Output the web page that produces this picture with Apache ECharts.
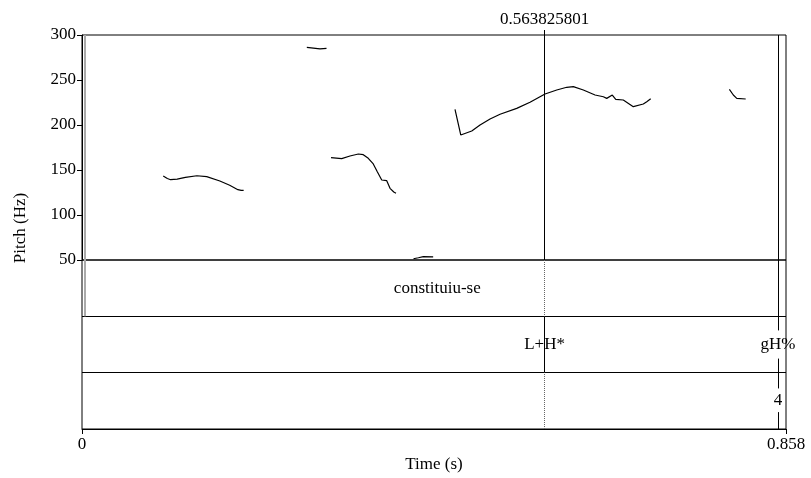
<!DOCTYPE html>
<html>
<head>
<meta charset="utf-8">
<script src="https://cdn.jsdelivr.net/npm/echarts@6/dist/echarts.min.js"></script>
<style>html,body{margin:0;padding:0;background:#fff;}#c{width:811px;height:478px;}</style>
</head>
<body>
<div id="c"></div>
<script>
// ---- data ----
var timeMax = 0.858;
var pitchTicks = [50, 100, 150, 200, 250, 300];
var timeTickLabels = [0, 0.858];
var cursorTime = 0.563825801;
var cursorLabel = '0.563825801';

var c1T = [0.099, 0.104, 0.108, 0.116, 0.126, 0.140, 0.152, 0.168, 0.180, 0.190, 0.194, 0.197];
var c1F = [143.3, 140.5, 139.2, 139.8, 141.8, 143.6, 142.6, 137.8, 133.0, 128.1, 127.4, 127.4];
var c2T = [0.274, 0.282, 0.290, 0.298];
var c2F = [286.3, 285.5, 284.6, 285.2];
var c3T = [0.3035, 0.3165, 0.3266, 0.3368, 0.3428, 0.3489, 0.355, 0.3599, 0.3653, 0.3714, 0.3754, 0.3800, 0.3827];
var c3F = [163.7, 162.6, 165.6, 167.8, 167.0, 163.0, 156.7, 148.1, 138.9, 138.1, 129.6, 125.5, 124.1];
var c4T = [0.404, 0.410, 0.416, 0.428];
var c4F = [51.4, 52.5, 53.7, 53.5];
var c5T = [0.4546, 0.4616, 0.475, 0.4851, 0.4973, 0.5095, 0.5298, 0.546, 0.5643, 0.5786, 0.5908, 0.5988, 0.611, 0.6253, 0.6354, 0.6395, 0.6463, 0.6505, 0.6597, 0.6719, 0.6841, 0.6883, 0.6931];
var c5F = [217.4, 188.9, 193.3, 200.0, 206.7, 211.9, 218.5, 225.2, 234.4, 238.9, 241.9, 242.6, 238.9, 233.3, 231.4, 229.6, 233.3, 228.5, 227.8, 220.4, 223.3, 225.9, 229.2];
var c6T = [0.789, 0.7938, 0.798, 0.8089];
var c6F = [239.6, 233.3, 229.6, 228.9];

var tier1Boundaries = [0.0037, 0.8483];
var tier1Labels = ['constituiu-se'];
var tier1LabelTimes = [0.433];
var tier2Points = [0.5638, 0.8483];
var tier2Labels = ['L+H*', 'gH%'];
var tier3Points = [0.8483];
var tier3Labels = ['4'];

// ---- build ----
var contours = [[c1T, c1F], [c2T, c2F], [c3T, c3F], [c4T, c4F], [c5T, c5F], [c6T, c6F]];
var pitchData = [];
contours.forEach(function (c, k) {
  if (k > 0) pitchData.push([null, null]);
  for (var i = 0; i < c[0].length; i++) pitchData.push([c[0][i], c[1][i]]);
});

var FONT = 'Liberation Serif';
var FS = 17;
var noSym = ['none', 'none'];
var pMin = pitchTicks[0], pMax = pitchTicks[pitchTicks.length - 1];

function seg(x, y0, y1, color, width, type) {
  return [{ coord: [x, y0], lineStyle: { color: color, width: width, type: type || 'solid' } }, { coord: [x, y1] }];
}

var pitchLines = [
  seg(tier1Boundaries[0], pMin, pMax, '#aaa', 2),
  seg(cursorTime, pMin, pMax, '#000', 1),
  seg(tier1Boundaries[1], pMin, pMax, '#000', 1)
];

// tier area: y in [0,3]; tier1 = [2,3], tier2 = [1,2], tier3 = [0,1]
var tierLines = [];
tierLines.push({ yAxis: 1, lineStyle: { color: '#000', width: 1, type: 'solid' } });
tierLines.push({ yAxis: 2, lineStyle: { color: '#000', width: 1, type: 'solid' } });
tierLines.push(seg(cursorTime, 0, 3, '#666', 1, [1, 1]));
tierLines.push(seg(tier1Boundaries[0], 2, 3, '#aaa', 2));
tierLines.push(seg(tier1Boundaries[1], 2, 3, '#000', 1));
tierLines.push(seg(tier2Points[0], 1, 2, '#000', 1));
tierLines.push(seg(tier2Points[1], 1.75, 2, '#000', 1));
tierLines.push(seg(tier2Points[1], 1, 1.25, '#000', 1));
tierLines.push(seg(tier3Points[0], 0.72, 1, '#000', 1));
tierLines.push(seg(tier3Points[0], 0, 0.3, '#000', 1));

var tierTexts = [];
tier1Labels.forEach(function (l, i) { tierTexts.push([tier1LabelTimes[i], 2.5, l]); });
tier2Labels.forEach(function (l, i) { tierTexts.push([tier2Points[i], 1.5, l]); });
tier3Labels.forEach(function (l, i) { tierTexts.push([tier3Points[i], 0.5, l]); });

var chart = echarts.init(document.getElementById('c'), null, { renderer: 'canvas' });
chart.setOption({
  animation: false,
  backgroundColor: '#fff',
  textStyle: { fontFamily: FONT },
  grid: [
    { left: 82, top: 35, width: 704, height: 225, show: true, borderColor: '#000', borderWidth: 1, backgroundColor: 'transparent' },
    { left: 82, top: 260, width: 704, height: 169, show: true, borderColor: '#000', borderWidth: 1, backgroundColor: 'transparent' }
  ],
  xAxis: [
    {
      gridIndex: 0, type: 'value', min: 0, max: timeMax, position: 'top',
      axisLine: { show: false }, splitLine: { show: false },
      axisTick: { show: true, inside: false, length: 5, customValues: [cursorTime], lineStyle: { color: '#000' } },
      axisLabel: { show: true, customValues: [cursorTime], margin: 7, fontFamily: FONT, fontSize: FS, color: '#000',
        formatter: function () { return cursorLabel; } }
    },
    {
      gridIndex: 1, type: 'value', min: 0, max: timeMax, position: 'bottom',
      axisLine: { show: true, lineStyle: { color: '#000' } }, splitLine: { show: false },
      axisTick: { show: true, inside: false, length: 5, customValues: timeTickLabels, lineStyle: { color: '#000' } },
      axisLabel: { show: true, customValues: timeTickLabels, margin: 7, fontFamily: FONT, fontSize: FS, color: '#000',
        formatter: function (v) { return String(v); } },
      name: 'Time (s)', nameLocation: 'middle', nameGap: 27,
      nameTextStyle: { fontFamily: FONT, fontSize: FS, color: '#000' }
    }
  ],
  yAxis: [
    {
      gridIndex: 0, type: 'value', min: pMin, max: pMax, interval: 50,
      axisLine: { show: true, lineStyle: { color: '#000' } }, splitLine: { show: false },
      axisTick: { show: true, inside: false, length: 5, lineStyle: { color: '#000' } },
      axisLabel: { margin: 6, fontFamily: FONT, fontSize: FS, color: '#000' }
    },
    {
      gridIndex: 1, type: 'value', min: 0, max: 3, show: false
    }
  ],
  graphic: [{
    type: 'text', x: 21, y: 228, rotation: Math.PI / 2,
    style: { text: 'Pitch (Hz)', fontFamily: FONT, fontSize: FS, fill: '#000', align: 'center', verticalAlign: 'middle' }
  }],
  series: [
    {
      type: 'line', xAxisIndex: 0, yAxisIndex: 0, data: pitchData, connectNulls: false,
      showSymbol: false, symbol: 'none', smooth: false,
      lineStyle: { color: '#000', width: 1.2 },
      markLine: { silent: true, symbol: noSym, label: { show: false }, data: pitchLines }
    },
    {
      type: 'custom', xAxisIndex: 1, yAxisIndex: 1, data: tierTexts, silent: true,
      encode: { x: 0, y: 1 },
      renderItem: function (params, api) {
        var p = api.coord([api.value(0), api.value(1)]);
        return {
          type: 'text', x: p[0], y: p[1],
          style: { text: tierTexts[params.dataIndex][2], fontFamily: FONT, fontSize: FS, fill: '#000',
            align: 'center', verticalAlign: 'middle' }
        };
      },
      markLine: { silent: true, symbol: noSym, label: { show: false }, data: tierLines }
    }
  ]
});
</script>
</body>
</html>
